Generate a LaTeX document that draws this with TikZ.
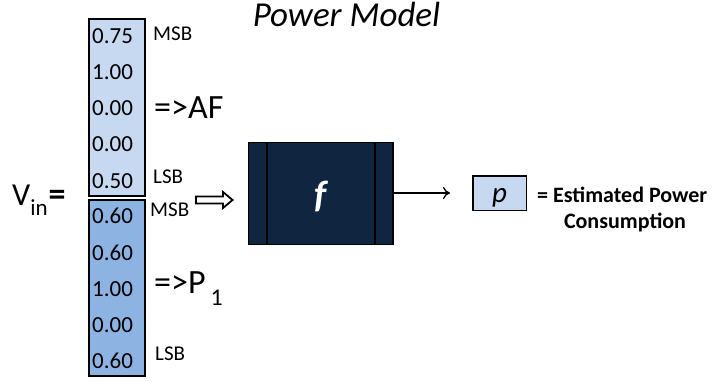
\documentclass[tikz,border=0pt]{standalone}
\usepackage{fontspec}
\setmainfont{Carlito}
\usetikzlibrary{arrows.meta}
\definecolor{lightblue}{HTML}{C6D9F1}
\definecolor{midblue}{HTML}{8DB3E2}
\definecolor{navy}{HTML}{10253F}
\newcommand{\fs}[1]{\fontsize{#1}{#1}\selectfont}
\begin{document}
\begin{tikzpicture}[x=1pt,y=-1pt,
  column/.style={draw=black,line width=2pt,inner sep=0pt,minimum width=56pt},
  num/.style={anchor=base west,inner sep=0pt,font=\fs{23}},
  bitlbl/.style={anchor=base west,inner sep=0pt,font=\fs{21}},
  grp/.style={anchor=base west,inner sep=0pt,font=\fs{34}},
  res/.style={inner sep=0pt,font=\bfseries\fs{22}}]
\useasboundingbox (0,0) rectangle (714,381);

% title
\node[anchor=base,inner sep=0pt,font=\itshape\fs{35}] (title) at (346.5,26.5) {Power Model};

% columns
\node[column,fill=lightblue,minimum height=177pt] (colA) at (116.7,107.2) {};
\node[column,fill=midblue,minimum height=175.4pt] (colB) at (116.7,288) {};

% values upper
\node[num] (a1) at (92,43.3) {0.75};
\node[num] (a2) at (92,79.5) {1.00};
\node[num] (a3) at (92,115.5) {0.00};
\node[num] (a4) at (92,151.5) {0.00};
\node[num] (a5) at (92,188.4) {0.50};
% values lower
\node[num] (b1) at (92,223.7) {0.60};
\node[num] (b2) at (92,260) {0.60};
\node[num] (b3) at (92,296) {1.00};
\node[num] (b4) at (92,332) {0.00};
\node[num] (b5) at (92,368.7) {0.60};

% bit labels
\node[bitlbl] (msbA) at (153,40) {MSB};
\node[bitlbl] (lsbA) at (153,183.3) {LSB};
\node[bitlbl] (msbB) at (150,216.7) {MSB};
\node[bitlbl] (lsbB) at (155,360) {LSB};

% group labels
\node[grp] (af) at (154,118.3) {=>AF};
\node[grp] (p1) at (154,293) {=>P\hspace{5pt}\raisebox{-12pt}{\fs{24}1}};

% V_in =
\node[anchor=base west,inner sep=0pt,font=\fs{32}] (vin) at (12,205)
  {V\raisebox{-10pt}{\fs{23}in}\hspace{1pt}{\fs{34}\textbf{=}}};

% hollow arrow
\draw[line width=1.8pt,fill=white,line join=miter]
  (196,196.5) -- (223,196.5) -- (223,192) -- (232.5,200) -- (223,208) -- (223,203.5) -- (196,203.5) -- cycle;

% function box
\node[draw=black,line width=1.5pt,fill=navy,minimum width=144.5pt,minimum height=101.8pt,inner sep=0pt] (fbox) at (320.85,193.35) {};
\draw[line width=2pt] (266.7,142.5) -- (266.7,244.2);
\draw[line width=2pt] (375,142.5) -- (375,244.2);
\node[anchor=base,inner sep=0pt,text=white,font=\bfseries\itshape\fs{38}] (fl) at (321,207) {f};

% output box
\node[draw=black,line width=1.5pt,fill=lightblue,minimum width=53.5pt,minimum height=34.5pt,inner sep=0pt] (pbox) at (499.5,193) {};
\node[anchor=base,inner sep=0pt,font=\itshape\fs{29}] (pl) at (499.5,202) {p};

\draw[line width=1.3pt,-{To[length=7pt,width=12pt]},shorten >=22pt] (fbox.east |- pbox.west) -- (pbox.west);

% result text
\node[res,anchor=base west] (est) at (537,202) {= Estimated Power};
\node[res,anchor=base] (cons) at (625,228) {Consumption};
\end{tikzpicture}
\end{document}
